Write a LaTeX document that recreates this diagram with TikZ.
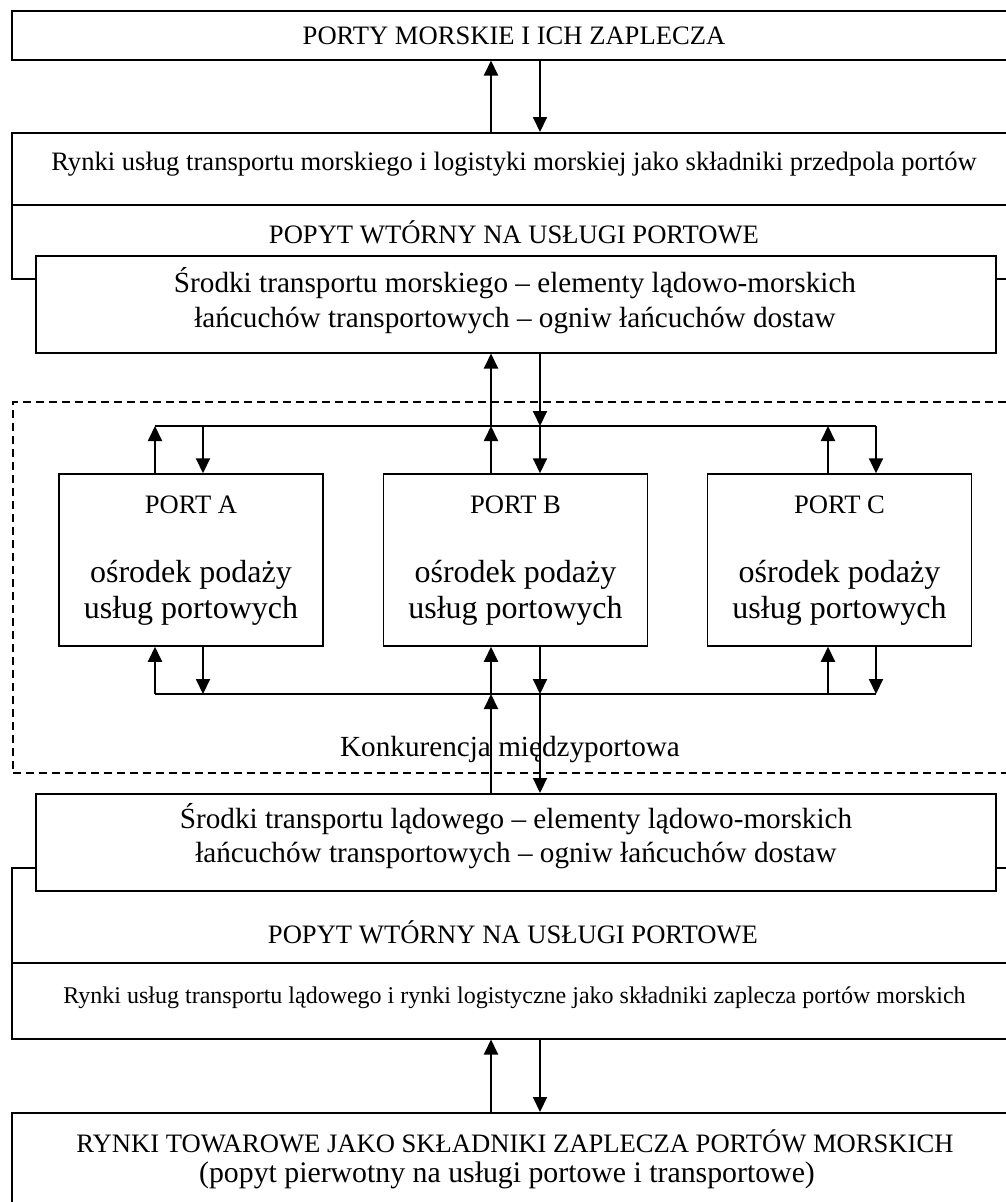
\documentclass[tikz,border=0pt]{standalone}
\usepackage{fontspec}
\setmainfont{Liberation Serif}
\usetikzlibrary{arrows.meta}

\begin{document}
\begin{tikzpicture}[x=1pt,y=-1pt,
		frame/.style={draw,line width=1.5pt,fill=white,inner sep=0pt,anchor=north west},
		zone/.style={draw,dash pattern=on 8pt off 5pt,line width=1.5pt,inner sep=0pt,anchor=north west},
		portbox/.style={draw,line width=1.5pt,inner sep=0pt,minimum width=264pt,minimum height=172pt},
		txt/.style={anchor=base,inner sep=0pt,font=\fontsize{26.6pt}{32pt}\selectfont},
		midtxt/.style={txt,font=\fontsize{29.2pt}{35pt}\selectfont},
		bigtxt/.style={txt,font=\fontsize{32pt}{36pt}\selectfont},
		smalltxt/.style={txt,font=\fontsize{24pt}{28pt}\selectfont},
		arr/.style={line width=2pt,-{Triangle[length=15pt,width=14pt]}},
		bus/.style={line width=2pt}]
		
		\useasboundingbox (0,0) rectangle (1006,1202);
		\clip (0,0) rectangle (1006,1202);
		
		% przedpole
		\node[frame,minimum width=1001pt,minimum height=49pt] (porty) at (11,10) {};
		\node[txt] (porty-t) at (514,44) {PORTY MORSKIE I ICH ZAPLECZA};
		
		\node[frame,minimum width=1001pt,minimum height=146pt] (rynkiM) at (11,132) {};
		\draw[line width=1.5pt] ([yshift=-73pt]rynkiM.north west) -- ([yshift=-73pt]rynkiM.north east);
		\node[txt] (rynkiM-t) at (514,170) {Rynki usług transportu morskiego i logistyki morskiej jako składniki przedpola portów};
		\node[txt] (popytM) at (514,243) {POPYT WTÓRNY NA USŁUGI PORTOWE};
		
		\node[frame,minimum width=960pt,minimum height=97pt] (srodkiM) at (35,255) {};
		\node[midtxt] (srodkiM-1) at (515,292) {Środki transportu morskiego – elementy lądowo-morskich};
		\node[midtxt] (srodkiM-2) at (515,327) {łańcuchów transportowych – ogniw łańcuchów dostaw};
		
		% porty
		\node[zone,minimum width=1000pt,minimum height=371pt] (zone) at (12,401) {};
		\node[midtxt] (zone-t) at (510,756) {Konkurencja międzyportowa};
		
		\foreach \p/\cx/\ux/\dx in {A/191/155/203,B/515.5/491/540,C/839.5/828/876} {
			\node[portbox] (port\p) at (\cx,560) {};
			\node[txt] (port\p-name) at (\cx,513) {PORT \p};
			\node[bigtxt] (port\p-l1) at (\cx,582) {ośrodek podaży};
			\node[bigtxt] (port\p-l2) at (\cx,618) {usług portowych};
			\coordinate (top-\p-up) at (\ux,426);
			\coordinate (top-\p-dn) at (\dx,426);
			\coordinate (bot-\p-up) at (\ux,694);
			\coordinate (bot-\p-dn) at (\dx,694);
			\draw[arr] (port\p.north -| top-\p-up) -- (top-\p-up);
			\draw[arr] (top-\p-dn) -- (port\p.north -| top-\p-dn);
			\draw[arr] (bot-\p-up) -- (port\p.south -| bot-\p-up);
			\draw[arr] (port\p.south -| bot-\p-dn) -- (bot-\p-dn);
		}
		\draw[bus] (top-A-up) -- (top-C-dn);
		\draw[bus] (bot-A-up) -- (bot-C-dn);
		
		% zaplecze
		\node[frame,minimum width=1001pt,minimum height=171pt] (rynkiL) at (11,867) {};
		\draw[line width=1.5pt] ([yshift=-96pt]rynkiL.north west) -- ([yshift=-96pt]rynkiL.north east);
		\node[frame,minimum width=960pt,minimum height=97pt] (srodkiL) at (35,793) {};
		\node[midtxt] (srodkiL-1) at (516,828) {Środki transportu lądowego – elementy lądowo-morskich};
		\node[midtxt] (srodkiL-2) at (516,862) {łańcuchów transportowych – ogniw łańcuchów dostaw};
		\node[txt] (popytL) at (513,943) {POPYT WTÓRNY NA USŁUGI PORTOWE};
		\node[smalltxt] (rynkiL-t) at (514.5,1003) {Rynki usług transportu lądowego i rynki logistyczne jako składniki zaplecza portów morskich};
		
		\node[frame,minimum width=1001pt,minimum height=110pt] (towary) at (11,1112) {};
		\node[txt] (towary-1) at (515,1152) {RYNKI TOWAROWE JAKO SKŁADNIKI ZAPLECZA PORTÓW MORSKICH};
		\node[txt,font=\fontsize{29.8pt}{35pt}\selectfont] (towary-2) at (507,1182) {(popyt pierwotny na usługi portowe i transportowe)};
		
		\draw[arr] (rynkiM.north -| top-B-up) -- (porty.south -| top-B-up);
		\draw[arr] (porty.south -| top-B-dn) -- (rynkiM.north -| top-B-dn);
		\draw[arr] (top-B-up) -- (srodkiM.south -| top-B-up);
		\draw[arr] (srodkiM.south -| top-B-dn) -- (top-B-dn);
		\draw[arr] (srodkiL.north -| bot-B-up) -- (bot-B-up);
		\draw[arr] (bot-B-dn) -- (srodkiL.north -| bot-B-dn);
		\draw[arr] (towary.north -| bot-B-up) -- (rynkiL.south -| bot-B-up);
		\draw[arr] (rynkiL.south -| bot-B-dn) -- (towary.north -| bot-B-dn);
	\end{tikzpicture}
\end{document}
